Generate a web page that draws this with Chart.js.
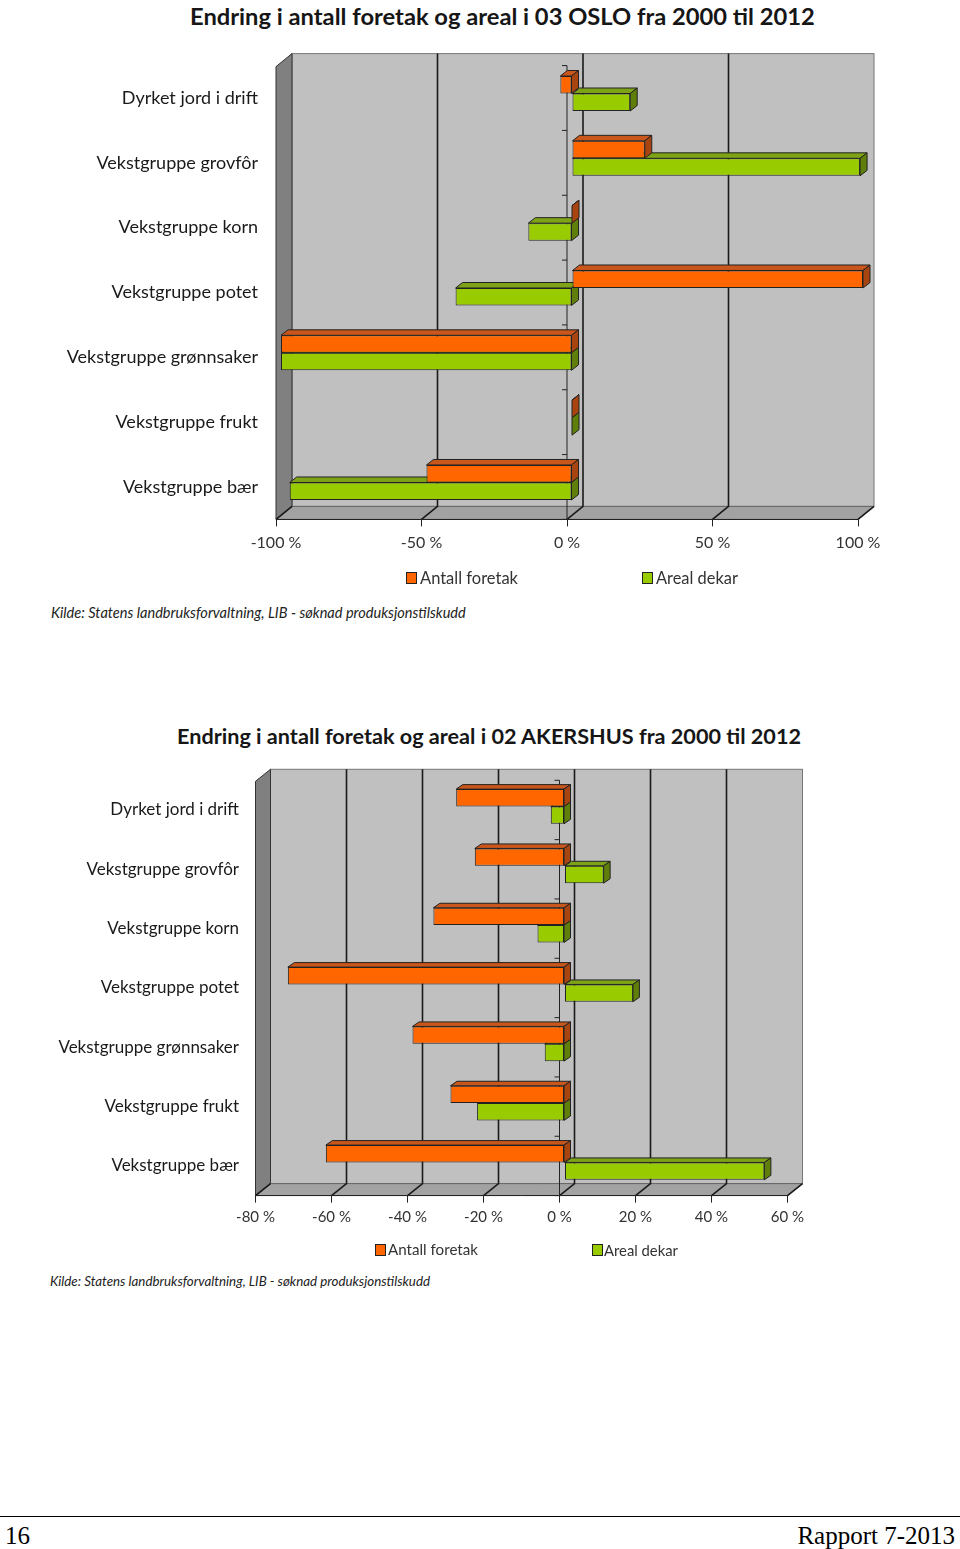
<!DOCTYPE html>
<html>
<head>
<meta charset="utf-8">
<script src="https://cdn.jsdelivr.net/npm/chart.js@4.4.0/dist/chart.umd.min.js"></script>
<style>
  html, body { margin:0; padding:0; }
  body { width:960px; height:1549px; position:relative; background:#fff; overflow:hidden; font-family:Lato, "Open Sans", sans-serif; }
  .abs { position:absolute; white-space:nowrap; line-height:1; }
  .title { font-weight:bold; color:#161616; transform:translateY(-50%); }
  .src { font-style:italic; color:#222; transform:translateY(-50%); }
  .leg { color:#333; transform:translateY(-50%); font-size:16px; }
  .sq { position:absolute; width:9px; height:10px; border:1px solid #222; }
  .foot { font-family:"Liberation Serif","DejaVu Serif",serif; font-size:25px; color:#000; transform:translateY(-50%); }
  canvas { position:absolute; left:0; }
</style>
</head>
<body>
<div class="abs title" id="t1" data-w="625" style="left:190px;top:17px;font-size:22px">Endring i antall foretak og areal i 03 OSLO fra 2000 til 2012</div>
<canvas id="c1" width="960" height="600" style="top:0px"></canvas>
<div class="sq" style="left:406px;top:572px;background:#ff6600"></div>
<div class="abs leg" id="l1a" data-w="98" style="left:420px;top:578px">Antall foretak</div>
<div class="sq" style="left:642px;top:572px;background:#99cc00"></div>
<div class="abs leg" id="l1b" data-w="82" style="left:656px;top:578px">Areal dekar</div>
<div class="abs src" id="s1" data-w="415" style="left:51px;top:613px;font-size:14px">Kilde: Statens landbruksforvaltning, LIB - søknad produksjonstilskudd</div>

<div class="abs title" id="t2" data-w="624" style="left:177px;top:737px;font-size:22px">Endring i antall foretak og areal i 02 AKERSHUS fra 2000 til 2012</div>
<canvas id="c2" width="960" height="560" style="top:700px"></canvas>
<div class="sq" style="left:375px;top:1244px;background:#ff6600"></div>
<div class="abs leg" id="l2a" data-w="90" style="left:388px;top:1250px">Antall foretak</div>
<div class="sq" style="left:592px;top:1244px;background:#99cc00"></div>
<div class="abs leg" id="l2b" data-w="74" style="left:604px;top:1250px">Areal dekar</div>
<div class="abs src" id="s2" data-w="380" style="left:50px;top:1282px;font-size:13px">Kilde: Statens landbruksforvaltning, LIB - søknad produksjonstilskudd</div>

<div style="position:absolute;left:0;top:1516px;width:960px;height:1px;background:#000"></div>
<div class="abs foot" style="left:5px;top:1535px">16</div>
<div class="abs foot" style="right:5px;top:1535px">Rapport 7-2013</div>

<script>
// ---------- data ----------
const categories = ['Dyrket jord i drift', 'Vekstgruppe grovfôr', 'Vekstgruppe korn', 'Vekstgruppe potet', 'Vekstgruppe grønnsaker', 'Vekstgruppe frukt', 'Vekstgruppe bær'];
const seriesNames = ['Antall foretak', 'Areal dekar'];

const osloAntallForetak = [-4, 25, 0, 100, -100, 0, -50];
const osloArealDekar    = [20, 99, -15, -40, -100, 0, -97];
const osloTicks = [-100, -50, 0, 50, 100];

const akershusAntallForetak = [-28.5, -23.6, -34.5, -72.8, -40, -30, -62.8];
const akershusArealDekar    = [-3.6, 10.3, -7.1, 18, -5.2, -23, 52.6];
const akershusTicks = [-80, -60, -40, -20, 0, 20, 40, 60];

// ---------- styles ----------
const ORANGE = { front:'#ff6600', top:'#c9561b', side:'#a8440f' };
const GREEN  = { front:'#99cc00', top:'#7fa316', side:'#5f7e0a' };

function threeD(g) {
  return {
    id: 'threeD',
    beforeDraw(chart) {
      const ctx = chart.ctx, a = chart.chartArea, xs = chart.scales.x;
      const L = a.left, R = a.right, T = a.top, B = a.bottom, dx = g.wdx, dy = g.wdy;
      const wallTop = T + 1 - dy;
      ctx.save();
      ctx.fillStyle = '#c0c0c0';
      ctx.fillRect(L + dx, wallTop, R - L, B - dy - wallTop);
      ctx.strokeStyle = '#777'; ctx.lineWidth = 1;
      ctx.strokeRect(L + dx, wallTop, R - L, B - dy - wallTop);
      ctx.beginPath(); ctx.moveTo(L, B); ctx.lineTo(L + dx, B - dy); ctx.lineTo(R + dx, B - dy); ctx.lineTo(R, B); ctx.closePath();
      ctx.fillStyle = '#a2a2a2'; ctx.fill(); ctx.strokeStyle = '#666'; ctx.stroke();
      ctx.beginPath(); ctx.moveTo(L, T + 1); ctx.lineTo(L + dx, wallTop); ctx.lineTo(L + dx, B - dy); ctx.lineTo(L, B); ctx.closePath();
      ctx.fillStyle = '#808080'; ctx.fill(); ctx.strokeStyle = '#333'; ctx.stroke();
      ctx.strokeStyle = '#1a1a1a'; ctx.lineWidth = 1.6;
      xs.ticks.forEach(t => {
        const x = xs.getPixelForValue(t.value);
        ctx.beginPath();
        if (t.value !== xs.min && t.value !== xs.max) {
          ctx.moveTo(x + dx, wallTop); ctx.lineTo(x + dx, B - dy);
        } else {
          ctx.moveTo(x + dx, B - dy);
        }
        ctx.lineTo(x, B);
        ctx.stroke();
      });
      const x0 = xs.getPixelForValue(0);
      const n = chart.data.labels.length;
      ctx.strokeStyle = '#222'; ctx.lineWidth = 1;
      ctx.beginPath(); ctx.moveTo(x0, T); ctx.lineTo(x0, B); ctx.stroke();
      for (let i = 0; i <= n; i++) {
        const y = T + i * (B - T) / n;
        ctx.beginPath(); ctx.moveTo(x0 - 5, y); ctx.lineTo(x0, y); ctx.stroke();
      }
      ctx.restore();
    },
    beforeDatasetsDraw(chart) {
      chart.ctx.save();
      chart.ctx.translate(g.bdx, -g.bdy);
    },
    afterDatasetDraw(chart, args) {
      const ctx = chart.ctx;
      const ds = chart.data.datasets[args.index];
      ctx.save();
      ctx.lineWidth = 1; ctx.strokeStyle = '#222'; ctx.lineJoin = 'round';
      args.meta.data.forEach(el => {
        const p = el.getProps(['x', 'y', 'base', 'height'], true);
        const left = Math.min(p.x, p.base), right = Math.max(p.x, p.base);
        const top = p.y - p.height / 2, bottom = p.y + p.height / 2;
        const fx = g.fdx, fy = g.fdy;
        ctx.beginPath();
        ctx.moveTo(left, top); ctx.lineTo(left + fx, top - fy); ctx.lineTo(right + fx, top - fy); ctx.lineTo(right, top); ctx.closePath();
        ctx.fillStyle = ds.topColor; ctx.fill(); ctx.stroke();
        ctx.beginPath();
        ctx.moveTo(right, top); ctx.lineTo(right + fx, top - fy); ctx.lineTo(right + fx, bottom - fy); ctx.lineTo(right, bottom); ctx.closePath();
        ctx.fillStyle = ds.sideColor; ctx.fill(); ctx.stroke();
      });
      ctx.restore();
    },
    afterDatasetsDraw(chart) {
      chart.ctx.restore();
    }
  };
}

function makeChart(id, ticks, dataA, dataB, g) {
  const ctx = document.getElementById(id).getContext('2d');
  const mk = (label, data, col) => ({
    label, data,
    backgroundColor: col.front, borderColor: '#222', borderWidth: 1, borderSkipped: false,
    topColor: col.top, sideColor: col.side,
    categoryPercentage: g.catPct, barPercentage: 1, clip: false
  });
  return new Chart(ctx, {
    type: 'bar',
    data: { labels: categories, datasets: [mk(seriesNames[0], dataA, ORANGE), mk(seriesNames[1], dataB, GREEN)] },
    options: {
      indexAxis: 'y', responsive: false, animation: false,
      layout: { padding: g.padding },
      plugins: { legend: { display: false }, title: { display: false }, tooltip: { enabled: false } },
      scales: {
        x: {
          min: ticks[0], max: ticks[ticks.length - 1],
          afterBuildTicks: s => { s.ticks = ticks.map(v => ({ value: v })); },
          afterFit: s => { s.height = 40; },
          grid: { display: true, drawOnChartArea: false, drawTicks: true, tickLength: 7, color: '#222', lineWidth: 1 },
          border: { display: true, color: '#222', width: 1 },
          ticks: { font: { family: 'Lato', size: g.tickSize }, color: '#333', padding: g.tickPad, maxRotation: 0, autoSkip: false, callback: v => v + ' %' }
        },
        y: {
          afterFit: s => { s.width = g.yWidth; },
          grid: { display: false, drawTicks: false },
          border: { display: false },
          ticks: { font: { family: 'Lato', size: g.catSize }, color: '#1a1a1a', padding: g.labelPad, autoSkip: false }
        }
      }
    },
    plugins: [threeD(g)]
  });
}

function fitText() {
  document.querySelectorAll('[data-w]').forEach(el => {
    const target = parseFloat(el.dataset.w);
    const fs = parseFloat(getComputedStyle(el).fontSize);
    const w = el.getBoundingClientRect().width;
    if (w > 0) el.style.fontSize = (fs * target / w).toFixed(2) + 'px';
  });
}

function build() {
  fitText();
  makeChart('c1', osloTicks, osloAntallForetak, osloArealDekar, {
    padding: { top: 65.6, left: 0, right: 102, bottom: 600 - 519.4 - 40 },
    yWidth: 276, labelPad: 18, catSize: 18, tickSize: 16, tickPad: 7, catPct: 0.54,
    wdx: 16, wdy: 13, bdx: 5, bdy: 4.5, fdx: 7, fdy: 5.5
  });
  makeChart('c2', akershusTicks, akershusAntallForetak, akershusArealDekar, {
    padding: { top: 80.3, left: 0, right: 960 - 787.5, bottom: 560 - 495.6 - 40 },
    yWidth: 255.5, labelPad: 16.5, catSize: 17, tickSize: 15, tickPad: 6, catPct: 0.585,
    wdx: 15, wdy: 12, bdx: 5, bdy: 3.5, fdx: 6.5, fdy: 4.5
  });
}

let built = false;
function go() { if (!built) { built = true; build(); } }
if (document.fonts && document.fonts.load) {
  Promise.all([document.fonts.load('17px Lato'), document.fonts.load('bold 22px Lato'), document.fonts.load('italic 14px Lato')])
    .then(go, go);
  setTimeout(go, 300);
} else { go(); }
</script>
</body>
</html>
